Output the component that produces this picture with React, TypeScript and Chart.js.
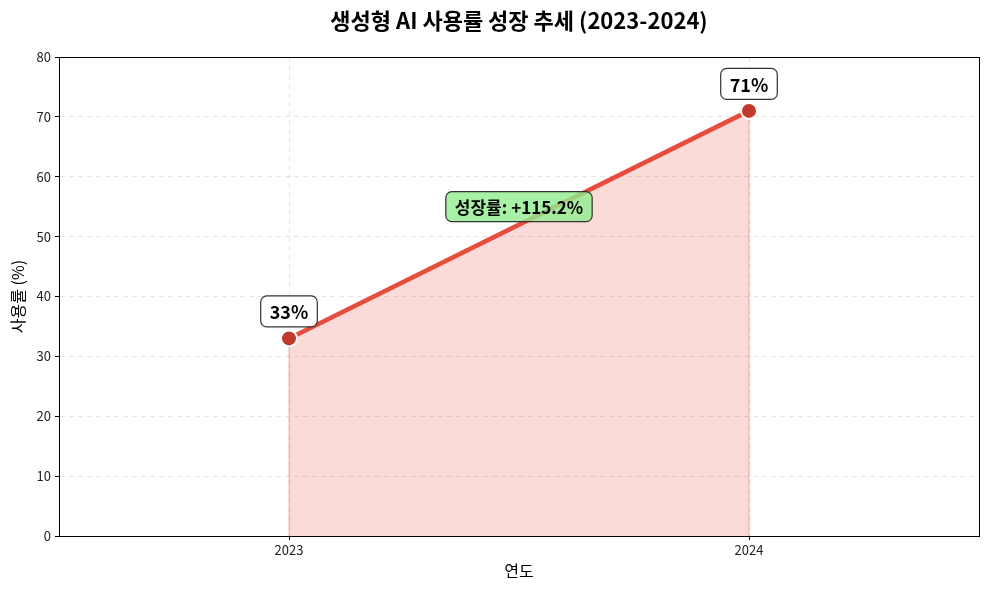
import { useEffect, useRef } from "react"
import { Chart, registerables, type Plugin } from "chart.js"

Chart.register(...registerables)

// data
const years = [2023, 2024]
const usage = [33, 71]
const yTicks = [0, 10, 20, 30, 40, 50, 60, 70, 80]
const pointLabels = ["33%", "71%"]
const growthLabel = "성장률: +115.2%"

const FONT = "'Noto Sans CJK KR', 'Noto Sans', sans-serif"

function roundBox(ctx: CanvasRenderingContext2D, x: number, y: number, w: number, h: number, r: number) {
  ctx.beginPath()
  ctx.moveTo(x + r, y)
  ctx.lineTo(x + w - r, y)
  ctx.arcTo(x + w, y, x + w, y + r, r)
  ctx.lineTo(x + w, y + h - r)
  ctx.arcTo(x + w, y + h, x + w - r, y + h, r)
  ctx.lineTo(x + r, y + h)
  ctx.arcTo(x, y + h, x, y + h - r, r)
  ctx.lineTo(x, y + r)
  ctx.arcTo(x, y, x + r, y, r)
  ctx.closePath()
}

function label(ctx: CanvasRenderingContext2D, text: string, cx: number, cy: number, size: number, bg: string) {
  ctx.font = `bold ${size}px ${FONT}`
  const w = ctx.measureText(text).width + 18
  const h = size + 13
  roundBox(ctx, cx - w / 2, cy - h / 2, w, h, 6)
  ctx.fillStyle = bg
  ctx.fill()
  ctx.setLineDash([])
  ctx.lineWidth = 1.2
  ctx.strokeStyle = "#333"
  ctx.stroke()
  ctx.fillStyle = "#000"
  ctx.textAlign = "center"
  ctx.textBaseline = "middle"
  ctx.fillText(text, cx, cy + 1)
}

const decor: Plugin = {
  id: "decor",
  beforeDatasetsDraw(chart) {
    // edges of the filled area
    const { ctx, scales } = chart
    const x = scales.x, y = scales.y
    ctx.save()
    ctx.strokeStyle = "rgba(231,76,60,0.25)"
    ctx.lineWidth = 1.5
    years.forEach((yr, i) => {
      ctx.beginPath()
      ctx.moveTo(x.getPixelForValue(yr), y.getPixelForValue(0))
      ctx.lineTo(x.getPixelForValue(yr), y.getPixelForValue(usage[i]))
      ctx.stroke()
    })
    ctx.restore()
  },
  afterDraw(chart) {
    const { ctx, chartArea: a, scales } = chart
    ctx.save()
    // frame
    ctx.setLineDash([])
    ctx.strokeStyle = "#000"
    ctx.lineWidth = 1
    ctx.strokeRect(a.left + 0.5, a.top + 0.5, a.right - a.left, a.bottom - a.top)

    // title and axis titles
    ctx.fillStyle = "#000"
    ctx.textAlign = "center"
    ctx.textBaseline = "middle"
    ctx.font = `bold 22px ${FONT}`
    ctx.fillText("생성형 AI 사용률 성장 추세 (2023-2024)", (a.left + a.right) / 2, 21)
    ctx.font = `16px ${FONT}`
    ctx.fillText("연도", (a.left + a.right) / 2, 571)
    ctx.translate(18, (a.top + a.bottom) / 2)
    ctx.rotate(-Math.PI / 2)
    ctx.fillText("사용률 (%)", 0, 0)
    ctx.setTransform(1, 0, 0, 1, 0, 0)
    ctx.scale(chart.currentDevicePixelRatio, chart.currentDevicePixelRatio)

    // value labels
    years.forEach((yr, i) => {
      const px = scales.x.getPixelForValue(yr)
      const py = scales.y.getPixelForValue(usage[i])
      label(ctx, pointLabels[i], px, py - 27, 18, "rgba(255,255,255,0.85)")
    })
    const gx = (scales.x.getPixelForValue(years[0]) + scales.x.getPixelForValue(years[1])) / 2
    label(ctx, growthLabel, gx, scales.y.getPixelForValue(55), 17, "rgba(144,238,144,0.8)")
    ctx.restore()
  },
}

export default function App() {
  const canvasRef = useRef<HTMLCanvasElement>(null)

  useEffect(() => {
    document.body.style.margin = "0"
    if (!canvasRef.current) return
    const chart = new Chart(canvasRef.current, {
      type: "line",
      data: {
        datasets: [
          {
            data: years.map((yr, i) => ({ x: yr, y: usage[i] })),
            borderColor: "#e74c3c",
            borderWidth: 4.5,
            backgroundColor: "rgba(231,76,60,0.2)",
            fill: "origin",
            pointBackgroundColor: "#c0392b",
            pointBorderColor: "#fff",
            pointBorderWidth: 2,
            pointRadius: 8,
            tension: 0,
          },
        ],
      },
      options: {
        animation: false,
        responsive: true,
        maintainAspectRatio: false,
        layout: { padding: { top: 57, right: 8, left: 0, bottom: 0 } },
        plugins: { legend: { display: false }, tooltip: { enabled: false } },
        scales: {
          x: {
            type: "linear",
            min: 2022.5,
            max: 2024.5,
            afterBuildTicks: (s) => {
              s.ticks = years.map((v) => ({ value: v }))
            },
            afterFit: (s) => {
              s.height = 54
            },
            grid: {
              color: "rgba(0,0,0,0.1)",
              tickColor: "#000",
              tickBorderDash: [],
              tickLength: 4,
            } as any,
            border: { color: "#000", width: 1, dash: [5, 4] },
            ticks: {
              color: "#222",
              font: { family: FONT, size: 13 },
              padding: 2,
              callback: (v) => String(v),
            },
          },
          y: {
            min: 0,
            max: 80,
            afterBuildTicks: (s) => {
              s.ticks = yTicks.map((v) => ({ value: v }))
            },
            afterFit: (s) => {
              s.width = 59
            },
            grid: {
              color: "rgba(0,0,0,0.1)",
              tickColor: "#000",
              tickBorderDash: [],
              tickLength: 4,
            } as any,
            border: { color: "#000", width: 1, dash: [5, 4] },
            ticks: {
              color: "#222",
              font: { family: FONT, size: 13 },
              padding: 4,
            },
          },
        },
      },
      plugins: [decor],
    })
    return () => chart.destroy()
  }, [])

  return (
    <div style={{ width: 989, height: 590, position: "relative" }}>
      <canvas ref={canvasRef}></canvas>
    </div>
  )
}
